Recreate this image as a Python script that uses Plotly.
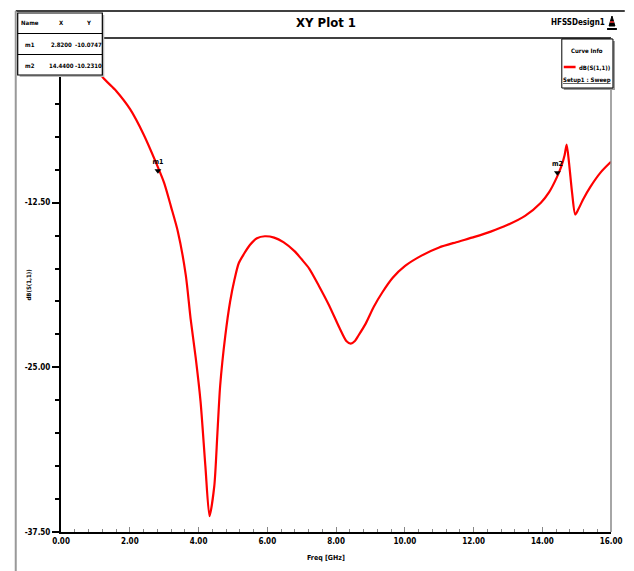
import plotly.graph_objects as go

# ---- data ----
freq_ghz = [1.00, 1.19, 1.60, 2.01, 2.40, 2.77, 3.00, 3.20, 3.40, 3.63, 3.77, 3.92,
            4.06, 4.20, 4.32, 4.46, 4.55, 4.63, 4.78, 4.92, 5.05, 5.17, 5.32, 5.50,
            5.70, 5.93, 6.20, 6.47, 6.80, 7.00, 7.22, 7.50, 7.80, 8.10, 8.30, 8.43,
            8.55, 8.65, 8.86, 9.10, 9.35, 9.65, 10.01, 10.50, 11.00, 11.50, 12.03,
            12.50, 12.98, 13.50, 13.96, 14.20, 14.42, 14.56, 14.65, 14.71, 14.78,
            14.87, 14.96, 15.05, 15.20, 15.40, 15.70, 16.00]
s11_db = [-1.5, -2.9, -4.0, -5.4, -7.3, -9.5, -11.0, -12.8, -14.7, -18.0, -21.3, -24.3,
          -27.6, -32.5, -36.3, -34.0, -30.0, -26.4, -22.6, -20.0, -18.3, -17.1, -16.4, -15.7,
          -15.2, -15.05, -15.15, -15.5, -16.2, -16.8, -17.5, -18.8, -20.3, -22.0, -23.0, -23.2,
          -23.0, -22.6, -21.7, -20.4, -19.3, -18.2, -17.3, -16.5, -15.9, -15.5, -15.1,
          -14.7, -14.2, -13.5, -12.5, -11.7, -10.6, -9.7, -8.9, -8.1, -9.5,
          -11.8, -13.4, -13.0, -12.2, -11.3, -10.2, -9.4]

marker_names = ["m1", "m2"]
marker_x = [2.8200, 14.4400]
marker_y = [-10.0747, -10.2310]

x_tick_vals = [0, 2, 4, 6, 8, 10, 12, 14, 16]
x_tick_text = ["0.00", "2.00", "4.00", "6.00", "8.00", "10.00", "12.00", "14.00", "16.00"]
y_tick_vals = [0, -12.5, -25, -37.5]
y_tick_text = ["", "-12.50", "-25.00", "-37.50"]

FONT = "DejaVu Sans Condensed, Liberation Sans Narrow, sans-serif"

# plot-area geometry in pixels (for paper coordinate conversion)
W, H = 634, 571
L, R, T, B = 61, 14, 38, 39
PW, PH = W - L - R, H - T - B


def px(x):
    return (x - L) / PW


def py(y):
    return (H - B - y) / PH


def label(x, y, text, size, angle=0):
    return dict(xref="paper", yref="paper", x=px(x), y=py(y), text=text,
                showarrow=False, xanchor="center", yanchor="middle", textangle=angle,
                font=dict(family=FONT, size=size, color="black", weight="bold"))


fig = go.Figure()
fig.add_trace(go.Scatter(
    x=freq_ghz, y=s11_db, mode="lines",
    line=dict(color="#ff0000", width=2.2, shape="spline", smoothing=0.7),
    showlegend=False, hoverinfo="x+y"))

fig.add_trace(go.Scatter(
    x=marker_x, y=marker_y, mode="markers+text",
    marker=dict(symbol="triangle-down", size=6, color="black"),
    text=marker_names, textposition="top center",
    textfont=dict(family=FONT, size=7, color="black", weight="bold"),
    showlegend=False, hoverinfo="skip", cliponaxis=False))

shapes = []
annotations = []

# outer frame lines
shapes.append(dict(type="line", xref="paper", yref="paper",
                   x0=px(15), x1=px(634), y0=py(11), y1=py(11),
                   line=dict(color="black", width=1.5)))
shapes.append(dict(type="line", xref="paper", yref="paper",
                   x0=px(15), x1=px(15), y0=py(11), y1=py(571),
                   line=dict(color="#999999", width=2)))

# plot frame top / right
shapes.append(dict(type="line", xref="paper", yref="paper",
                   x0=0, x1=1, y0=1, y1=1, line=dict(color="black", width=1.5)))
shapes.append(dict(type="line", xref="paper", yref="paper",
                   x0=1, x1=1, y0=0, y1=1, line=dict(color="#888888", width=1.5)))

# marker table
tx0, tx1, ty0, ty1 = 17, 103, 13, 75
shapes.append(dict(type="rect", xref="paper", yref="paper",
                   x0=px(tx0 + 2), x1=px(tx1 + 2), y0=py(ty1 + 2), y1=py(ty0 + 2),
                   fillcolor="#bbbbbb", line=dict(width=0), layer="above"))
shapes.append(dict(type="rect", xref="paper", yref="paper",
                   x0=px(tx0), x1=px(tx1), y0=py(ty1), y1=py(ty0),
                   fillcolor="white", line=dict(color="black", width=1.2), layer="above"))
for yy in [33.5, 54.5]:
    shapes.append(dict(type="line", xref="paper", yref="paper",
                       x0=px(tx0), x1=px(tx1), y0=py(yy), y1=py(yy),
                       line=dict(color="black", width=1), layer="above"))
rows = [["Name", "X", "Y"]] + [
    [n, f"{x:.4f}", f"{y:.4f}"] for n, x, y in zip(marker_names, marker_x, marker_y)]
row_y = [23, 44, 65]
col_x = [29, 61, 89]
for r, yy in zip(rows, row_y):
    for c, xx in zip(r, col_x):
        annotations.append(label(xx, yy, c, 6))

# title and design name
annotations.append(label(330, 23, "XY Plot 1", 13))
annotations.append(label(586, 23, "HFSSDesign1", 8))
# small logo
shapes.append(dict(type="path", xref="paper", yref="paper",
                   path=f"M {px(618)} {py(26)} L {px(624)} {py(26)} L {px(621)} {py(16)} Z",
                   fillcolor="black", line=dict(color="black", width=1)))
shapes.append(dict(type="line", xref="paper", yref="paper",
                   x0=px(616), x1=px(626), y0=py(29), y1=py(29),
                   line=dict(color="black", width=2)))
shapes.append(dict(type="line", xref="paper", yref="paper",
                   x0=px(619), x1=px(623), y0=py(22), y1=py(22),
                   line=dict(color="#ff3333", width=1.5)))

# legend box
lx0, lx1, ly0, ly1 = 570, 622, 39, 88
shapes.append(dict(type="rect", xref="paper", yref="paper",
                   x0=px(lx0 + 2), x1=px(lx1 + 2), y0=py(ly1 + 2), y1=py(ly0 + 2),
                   fillcolor="#999999", line=dict(width=0), layer="above"))
shapes.append(dict(type="rect", xref="paper", yref="paper",
                   x0=px(lx0), x1=px(lx1), y0=py(ly1), y1=py(ly0),
                   fillcolor="white", line=dict(color="black", width=1), layer="above"))
annotations.append(label(596, 50, "Curve Info", 6))
shapes.append(dict(type="line", xref="paper", yref="paper",
                   x0=px(572), x1=px(584), y0=py(67), y1=py(67),
                   line=dict(color="#ff0000", width=2.5), layer="above"))
annotations.append(label(603, 67, "dB(S(1,1))", 6))
annotations.append(label(596, 80, "<u>Setup1 : Sweep</u>", 6))

# axis titles
annotations.append(label(330, 558, "Freq [GHz]", 7))
annotations.append(label(27, 285, "dB(S(1,1))", 6, angle=-90))

fig.update_layout(
    width=W, height=H, autosize=False,
    margin=dict(l=L, r=R, t=T, b=B),
    paper_bgcolor="white", plot_bgcolor="white",
    shapes=shapes, annotations=annotations,
    xaxis=dict(range=[0, 16], tickvals=x_tick_vals, ticktext=x_tick_text,
               showgrid=False, zeroline=False, showline=True,
               linecolor="black", linewidth=2,
               ticks="inside", ticklen=5, tickcolor="#888888", tickwidth=1.2,
               minor=dict(dtick=0.4, ticks="inside", ticklen=3, tickcolor="#888888"),
               tickfont=dict(family=FONT, size=8, color="black", weight="bold")),
    yaxis=dict(range=[-37.5, 0], tickvals=y_tick_vals, ticktext=y_tick_text,
               showgrid=False, zeroline=False, showline=True,
               linecolor="black", linewidth=2,
               ticks="outside", ticklen=7, tickcolor="black", tickwidth=2,
               minor=dict(dtick=2.5, ticks="outside", ticklen=4, tickcolor="black"),
               tickfont=dict(family=FONT, size=8, color="black", weight="bold")),
)

fig.write_html("out.html",
               config={"displayModeBar": False, "responsive": False},
               post_script="document.body.style.margin='0';"
                           "document.body.style.overflow='hidden';")
